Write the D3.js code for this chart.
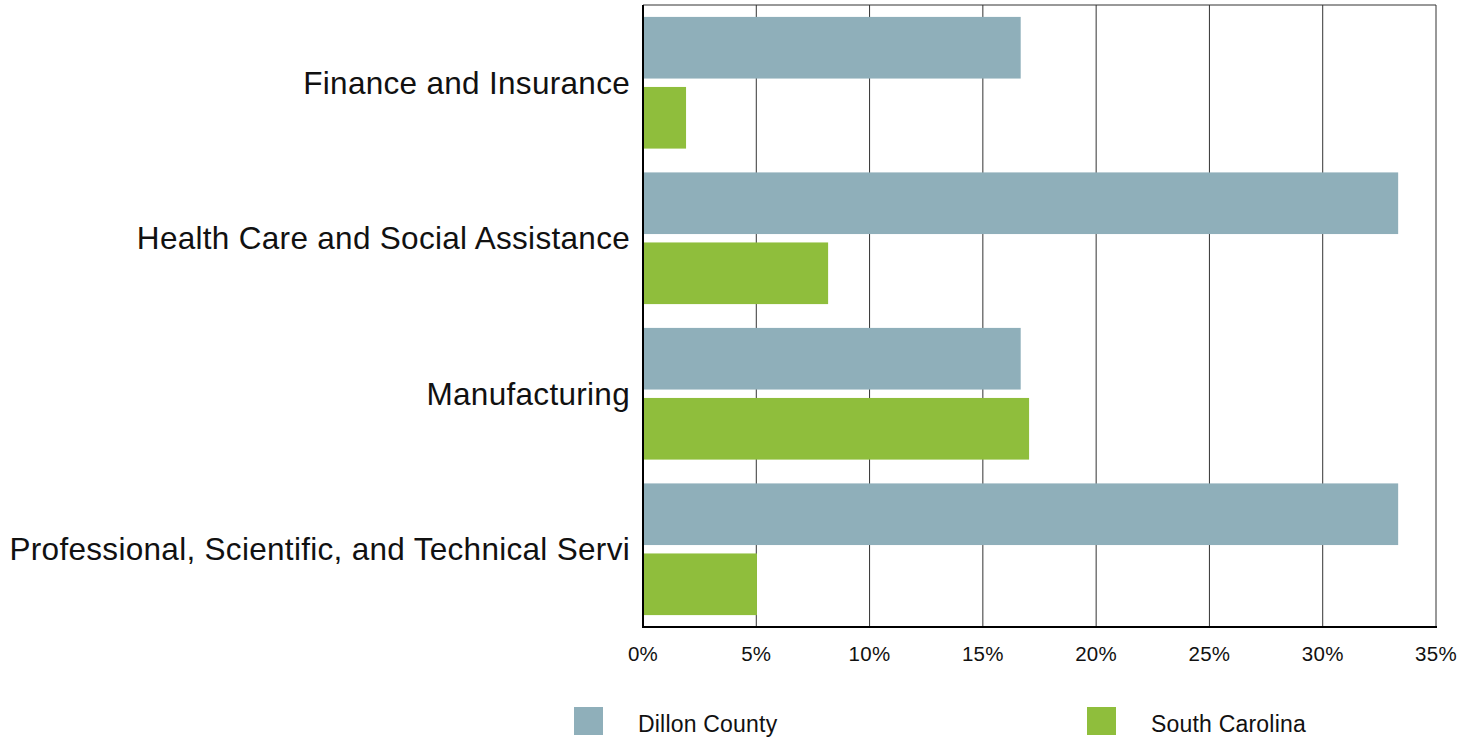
<!DOCTYPE html>
<html>
<head>
<meta charset="utf-8">
<script src="https://cdn.jsdelivr.net/npm/d3@7"></script>
<style>
  body { margin: 0; background: #fff; }
  text { font-family: "Liberation Sans", Arial, sans-serif; }
</style>
</head>
<body>
<svg id="chart"></svg>
<script>
// 資料
const categories = [
  "Finance and Insurance",
  "Health Care and Social Assistance",
  "Manufacturing",
  "Professional, Scientific, and Technical Servi"
];
const seriesNames = ["Dillon County", "South Carolina"];
const dillonValues = [16.67, 33.33, 16.67, 33.33];
const scValues = [1.9, 8.17, 17.04, 5.03];
const xTicks = [0, 5, 10, 15, 20, 25, 30, 35];
const colors = ["#8fafba", "#8fbe3c"];

const width = 1475, height = 737;
const margin = { top: 5, right: 39, bottom: 110, left: 643 };

const svg = d3.select("#chart").attr("width", width).attr("height", height);

const x = d3.scaleLinear().domain([0, 35]).range([margin.left, width - margin.right]);
const y = d3.scaleBand().domain(categories)
  .range([margin.top, height - margin.bottom])
  .paddingInner(0).paddingOuter(0);
const inner = d3.scaleBand().domain(seriesNames)
  .range([0, y.bandwidth()]).paddingInner(0.12).paddingOuter(0.17);

// 網格線
svg.append("g")
  .selectAll("line")
  .data(xTicks)
  .join("line")
  .attr("x1", (d) => x(d)).attr("x2", (d) => x(d))
  .attr("y1", margin.top).attr("y2", height - margin.bottom)
  .attr("stroke", "#333")
  .attr("stroke-width", 1);

// 上框線
svg.append("line")
  .attr("x1", margin.left).attr("x2", width - margin.right)
  .attr("y1", margin.top).attr("y2", margin.top)
  .attr("stroke", "#333").attr("stroke-width", 1);

// 長條
const rows = categories.map((c, i) => ({ c, vals: [dillonValues[i], scValues[i]] }));
const groups = svg.append("g")
  .selectAll("g")
  .data(rows)
  .join("g")
  .attr("transform", (d) => `translate(0,${y(d.c)})`);

groups.selectAll("rect")
  .data((d) => d.vals.map((v, j) => ({ v, s: seriesNames[j], j })))
  .join("rect")
  .attr("x", x(0))
  .attr("y", (d) => inner(d.s))
  .attr("width", (d) => x(d.v) - x(0))
  .attr("height", inner.bandwidth())
  .attr("fill", (d) => colors[d.j]);

// 軸線
svg.append("line")
  .attr("x1", margin.left).attr("x2", margin.left)
  .attr("y1", margin.top).attr("y2", height - margin.bottom + 1)
  .attr("stroke", "#000").attr("stroke-width", 2);
svg.append("line")
  .attr("x1", margin.left - 1).attr("x2", width - margin.right + 1)
  .attr("y1", height - margin.bottom).attr("y2", height - margin.bottom)
  .attr("stroke", "#000").attr("stroke-width", 2);

// 類別標籤
svg.append("g")
  .selectAll("text")
  .data(categories)
  .join("text")
  .attr("x", margin.left - 13)
  .attr("y", (d) => y(d) + y.bandwidth() / 2)
  .attr("text-anchor", "end")
  .attr("dominant-baseline", "central")
  .attr("font-size", 31.5)
  .attr("letter-spacing", 0.3)
  .attr("fill", "#111")
  .text((d) => d);

// X 軸刻度標籤
svg.append("g")
  .selectAll("text")
  .data(xTicks)
  .join("text")
  .attr("x", (d) => x(d))
  .attr("y", 661)
  .attr("text-anchor", "middle")
  .attr("font-size", 20.5)
  .attr("letter-spacing", 0.3)
  .attr("fill", "#111")
  .text((d) => d + "%");

// 圖例
const legendX = [574, 1087];
const legend = svg.append("g")
  .selectAll("g")
  .data(seriesNames)
  .join("g")
  .attr("transform", (d, i) => `translate(${legendX[i]},707)`);
legend.append("rect")
  .attr("width", 29).attr("height", 28)
  .attr("fill", (d, i) => colors[i]);
legend.append("text")
  .attr("x", 64).attr("y", 25)
  .attr("font-size", 23)
  .attr("letter-spacing", 0.2)
  .attr("fill", "#111")
  .text((d) => d);
</script>
</body>
</html>
